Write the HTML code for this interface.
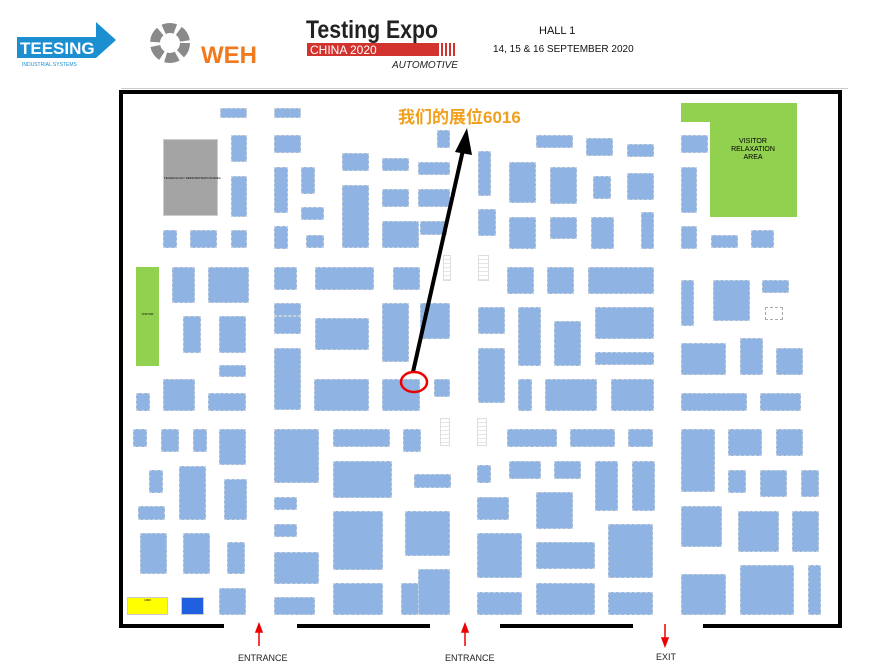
<!DOCTYPE html>
<html><head><meta charset="utf-8">
<style>
*{margin:0;padding:0;box-sizing:border-box}
body{width:875px;height:669px;background:#fff;position:relative;overflow:hidden;font-family:"Liberation Sans",sans-serif}
.b{position:absolute;background:#8fb4e3;border:1px dashed #c9d3df}
.w{position:absolute;background:#000}
.t{position:absolute;white-space:nowrap}
.lad{position:absolute;border:1px solid #ddd;background:repeating-linear-gradient(#fff 0 3px,#e6e6e6 3px 4px)}
</style></head><body>
<svg style="position:absolute;left:0;top:0" width="875" height="90">
<polygon points="17,37 96,37 96,22 116,40 96,58 17,58" fill="#1c8fd0"/>
<text x="20" y="54" font-family="Liberation Sans" font-weight="bold" font-size="17" fill="#fff">TEESING</text>
<text x="22" y="66" font-family="Liberation Sans" font-size="5" fill="#1c8fd0">INDUSTRIAL SYSTEMS</text>
<circle cx="170" cy="43" r="15" fill="none" stroke="#8a8a8a" stroke-width="10" stroke-dasharray="12 4"/>
<text x="201" y="63" font-family="Liberation Sans" font-weight="bold" font-size="24" fill="#f07a20">WEH</text>
<text x="306" y="38" font-family="Liberation Sans" font-weight="bold" font-size="25" fill="#222" textLength="132" lengthAdjust="spacingAndGlyphs">Testing Expo</text>
<rect x="307" y="43" width="132" height="13" fill="#d2332f"/>
<rect x="441" y="43" width="2" height="13" fill="#d2332f"/><rect x="445" y="43" width="2" height="13" fill="#d2332f"/><rect x="449" y="43" width="2" height="13" fill="#d2332f"/><rect x="453" y="43" width="2" height="13" fill="#d2332f"/>
<text x="310" y="54" font-family="Liberation Sans" font-size="12" fill="#fff">CHINA 2020</text>
<text x="392" y="68" font-family="Liberation Sans" font-style="italic" font-size="10" fill="#222">AUTOMOTIVE</text>
<text x="539" y="34" font-family="Liberation Sans" font-size="11" fill="#111">HALL 1</text>
<text x="493" y="52" font-family="Liberation Sans" font-size="10" fill="#111">14, 15 &amp; 16 SEPTEMBER 2020</text>
<rect x="121" y="88" width="727" height="1" fill="#ccc"/>
</svg>
<div class="w" style="left:119px;top:90px;width:723px;height:4px"></div>
<div class="w" style="left:119px;top:90px;width:4px;height:538px"></div>
<div class="w" style="left:838px;top:90px;width:4px;height:538px"></div>
<div class="w" style="left:119px;top:624px;width:105px;height:4px"></div>
<div class="w" style="left:297px;top:624px;width:133px;height:4px"></div>
<div class="w" style="left:500px;top:624px;width:133px;height:4px"></div>
<div class="w" style="left:703px;top:624px;width:139px;height:4px"></div>
<div class="t" style="left:163px;top:139px;width:55px;height:77px;background:#a4a4a4;border:1px solid #ccc;font-size:3px;text-align:center;padding-top:36px">TECHNOLOGY DEMONSTRATION AREA</div>
<div class="t" style="left:136px;top:267px;width:23px;height:99px;background:#92d050;font-size:3px;text-align:center;padding-top:45px">VISITOR</div>
<svg style="position:absolute;left:681px;top:103px" width="117" height="115"><polygon points="0,0 116,0 116,114 29,114 29,19 0,19" fill="#92d050"/>
<text x="72" y="40" font-family="Liberation Sans" font-size="7" text-anchor="middle">VISITOR</text><text x="72" y="48" font-family="Liberation Sans" font-size="7" text-anchor="middle">RELAXATION</text><text x="72" y="56" font-family="Liberation Sans" font-size="7" text-anchor="middle">AREA</text></svg>
<div class="t" style="left:127px;top:597px;width:41px;height:18px;background:#ffff00;border:1px solid #ccc;font-size:3px;text-align:center">1000</div>
<div class="t" style="left:181px;top:597px;width:23px;height:18px;background:#1f5fe0;border:1px solid #ccc"></div>
<div class="lad" style="left:443px;top:255px;width:8px;height:26px"></div>
<div class="lad" style="left:478px;top:255px;width:11px;height:26px"></div>
<div class="lad" style="left:440px;top:418px;width:10px;height:28px"></div>
<div class="lad" style="left:477px;top:418px;width:10px;height:28px"></div>
<div class="t" style="left:765px;top:307px;width:18px;height:13px;border:1px dashed #aaa"></div>
<div class="b" style="left:220px;top:108px;width:27px;height:10px"></div>
<div class="b" style="left:274px;top:108px;width:27px;height:10px"></div>
<div class="b" style="left:231px;top:135px;width:16px;height:27px"></div>
<div class="b" style="left:274px;top:135px;width:27px;height:18px"></div>
<div class="b" style="left:231px;top:176px;width:16px;height:41px"></div>
<div class="b" style="left:274px;top:167px;width:14px;height:46px"></div>
<div class="b" style="left:301px;top:167px;width:14px;height:27px"></div>
<div class="b" style="left:342px;top:153px;width:27px;height:18px"></div>
<div class="b" style="left:382px;top:158px;width:27px;height:13px"></div>
<div class="b" style="left:342px;top:185px;width:27px;height:63px"></div>
<div class="b" style="left:382px;top:189px;width:27px;height:18px"></div>
<div class="b" style="left:301px;top:207px;width:23px;height:13px"></div>
<div class="b" style="left:163px;top:230px;width:14px;height:18px"></div>
<div class="b" style="left:190px;top:230px;width:27px;height:18px"></div>
<div class="b" style="left:231px;top:230px;width:16px;height:18px"></div>
<div class="b" style="left:274px;top:226px;width:14px;height:23px"></div>
<div class="b" style="left:306px;top:235px;width:18px;height:13px"></div>
<div class="b" style="left:382px;top:221px;width:37px;height:27px"></div>
<div class="b" style="left:172px;top:267px;width:23px;height:36px"></div>
<div class="b" style="left:208px;top:267px;width:41px;height:36px"></div>
<div class="b" style="left:274px;top:267px;width:23px;height:23px"></div>
<div class="b" style="left:315px;top:267px;width:59px;height:23px"></div>
<div class="b" style="left:393px;top:267px;width:27px;height:23px"></div>
<div class="b" style="left:183px;top:316px;width:18px;height:37px"></div>
<div class="b" style="left:219px;top:316px;width:27px;height:37px"></div>
<div class="b" style="left:274px;top:303px;width:27px;height:13px"></div>
<div class="b" style="left:274px;top:316px;width:27px;height:18px"></div>
<div class="b" style="left:315px;top:318px;width:54px;height:32px"></div>
<div class="b" style="left:382px;top:303px;width:27px;height:59px"></div>
<div class="b" style="left:420px;top:303px;width:30px;height:36px"></div>
<div class="b" style="left:274px;top:348px;width:27px;height:62px"></div>
<div class="b" style="left:219px;top:365px;width:27px;height:12px"></div>
<div class="b" style="left:418px;top:162px;width:32px;height:13px"></div>
<div class="b" style="left:418px;top:189px;width:32px;height:18px"></div>
<div class="b" style="left:420px;top:221px;width:27px;height:14px"></div>
<div class="b" style="left:437px;top:130px;width:13px;height:18px"></div>
<div class="b" style="left:478px;top:151px;width:13px;height:45px"></div>
<div class="b" style="left:536px;top:135px;width:37px;height:13px"></div>
<div class="b" style="left:586px;top:138px;width:27px;height:18px"></div>
<div class="b" style="left:627px;top:144px;width:27px;height:13px"></div>
<div class="b" style="left:681px;top:135px;width:27px;height:18px"></div>
<div class="b" style="left:509px;top:162px;width:27px;height:41px"></div>
<div class="b" style="left:550px;top:167px;width:27px;height:37px"></div>
<div class="b" style="left:593px;top:176px;width:18px;height:23px"></div>
<div class="b" style="left:627px;top:173px;width:27px;height:27px"></div>
<div class="b" style="left:681px;top:167px;width:16px;height:46px"></div>
<div class="b" style="left:478px;top:209px;width:18px;height:27px"></div>
<div class="b" style="left:509px;top:217px;width:27px;height:32px"></div>
<div class="b" style="left:550px;top:217px;width:27px;height:22px"></div>
<div class="b" style="left:591px;top:217px;width:23px;height:32px"></div>
<div class="b" style="left:641px;top:212px;width:13px;height:37px"></div>
<div class="b" style="left:681px;top:226px;width:16px;height:23px"></div>
<div class="b" style="left:711px;top:235px;width:27px;height:13px"></div>
<div class="b" style="left:751px;top:230px;width:23px;height:18px"></div>
<div class="b" style="left:507px;top:267px;width:27px;height:27px"></div>
<div class="b" style="left:547px;top:267px;width:27px;height:27px"></div>
<div class="b" style="left:588px;top:267px;width:66px;height:27px"></div>
<div class="b" style="left:681px;top:280px;width:13px;height:46px"></div>
<div class="b" style="left:713px;top:280px;width:37px;height:41px"></div>
<div class="b" style="left:762px;top:280px;width:27px;height:13px"></div>
<div class="b" style="left:478px;top:307px;width:27px;height:27px"></div>
<div class="b" style="left:518px;top:307px;width:23px;height:59px"></div>
<div class="b" style="left:554px;top:321px;width:27px;height:45px"></div>
<div class="b" style="left:595px;top:307px;width:59px;height:32px"></div>
<div class="b" style="left:681px;top:343px;width:45px;height:32px"></div>
<div class="b" style="left:740px;top:338px;width:23px;height:37px"></div>
<div class="b" style="left:776px;top:348px;width:27px;height:27px"></div>
<div class="b" style="left:478px;top:348px;width:27px;height:55px"></div>
<div class="b" style="left:595px;top:352px;width:59px;height:13px"></div>
<div class="b" style="left:136px;top:393px;width:14px;height:18px"></div>
<div class="b" style="left:163px;top:379px;width:32px;height:32px"></div>
<div class="b" style="left:208px;top:393px;width:38px;height:18px"></div>
<div class="b" style="left:314px;top:379px;width:55px;height:32px"></div>
<div class="b" style="left:382px;top:379px;width:38px;height:32px"></div>
<div class="b" style="left:434px;top:379px;width:16px;height:18px"></div>
<div class="b" style="left:518px;top:379px;width:14px;height:32px"></div>
<div class="b" style="left:545px;top:379px;width:52px;height:32px"></div>
<div class="b" style="left:611px;top:379px;width:43px;height:32px"></div>
<div class="b" style="left:681px;top:393px;width:66px;height:18px"></div>
<div class="b" style="left:760px;top:393px;width:41px;height:18px"></div>
<div class="b" style="left:133px;top:429px;width:14px;height:18px"></div>
<div class="b" style="left:161px;top:429px;width:18px;height:23px"></div>
<div class="b" style="left:193px;top:429px;width:14px;height:23px"></div>
<div class="b" style="left:219px;top:429px;width:27px;height:36px"></div>
<div class="b" style="left:274px;top:429px;width:45px;height:54px"></div>
<div class="b" style="left:333px;top:429px;width:57px;height:18px"></div>
<div class="b" style="left:403px;top:429px;width:18px;height:23px"></div>
<div class="b" style="left:507px;top:429px;width:50px;height:18px"></div>
<div class="b" style="left:570px;top:429px;width:45px;height:18px"></div>
<div class="b" style="left:628px;top:429px;width:25px;height:18px"></div>
<div class="b" style="left:681px;top:429px;width:34px;height:63px"></div>
<div class="b" style="left:728px;top:429px;width:34px;height:27px"></div>
<div class="b" style="left:776px;top:429px;width:27px;height:27px"></div>
<div class="b" style="left:149px;top:470px;width:14px;height:23px"></div>
<div class="b" style="left:179px;top:466px;width:27px;height:54px"></div>
<div class="b" style="left:224px;top:479px;width:23px;height:41px"></div>
<div class="b" style="left:333px;top:461px;width:59px;height:37px"></div>
<div class="b" style="left:414px;top:474px;width:37px;height:14px"></div>
<div class="b" style="left:477px;top:465px;width:14px;height:18px"></div>
<div class="b" style="left:509px;top:461px;width:32px;height:18px"></div>
<div class="b" style="left:554px;top:461px;width:27px;height:18px"></div>
<div class="b" style="left:595px;top:461px;width:23px;height:50px"></div>
<div class="b" style="left:632px;top:461px;width:23px;height:50px"></div>
<div class="b" style="left:728px;top:470px;width:18px;height:23px"></div>
<div class="b" style="left:760px;top:470px;width:27px;height:27px"></div>
<div class="b" style="left:801px;top:470px;width:18px;height:27px"></div>
<div class="b" style="left:138px;top:506px;width:27px;height:14px"></div>
<div class="b" style="left:274px;top:497px;width:23px;height:13px"></div>
<div class="b" style="left:477px;top:497px;width:32px;height:23px"></div>
<div class="b" style="left:536px;top:492px;width:37px;height:37px"></div>
<div class="b" style="left:681px;top:506px;width:41px;height:41px"></div>
<div class="b" style="left:738px;top:511px;width:41px;height:41px"></div>
<div class="b" style="left:792px;top:511px;width:27px;height:41px"></div>
<div class="b" style="left:333px;top:511px;width:50px;height:59px"></div>
<div class="b" style="left:405px;top:511px;width:45px;height:45px"></div>
<div class="b" style="left:274px;top:524px;width:23px;height:13px"></div>
<div class="b" style="left:608px;top:524px;width:45px;height:54px"></div>
<div class="b" style="left:140px;top:533px;width:27px;height:41px"></div>
<div class="b" style="left:183px;top:533px;width:27px;height:41px"></div>
<div class="b" style="left:477px;top:533px;width:45px;height:45px"></div>
<div class="b" style="left:227px;top:542px;width:18px;height:32px"></div>
<div class="b" style="left:536px;top:542px;width:59px;height:27px"></div>
<div class="b" style="left:274px;top:552px;width:45px;height:32px"></div>
<div class="b" style="left:401px;top:583px;width:18px;height:32px"></div>
<div class="b" style="left:418px;top:569px;width:32px;height:46px"></div>
<div class="b" style="left:681px;top:574px;width:45px;height:41px"></div>
<div class="b" style="left:740px;top:565px;width:54px;height:50px"></div>
<div class="b" style="left:808px;top:565px;width:13px;height:50px"></div>
<div class="b" style="left:219px;top:588px;width:27px;height:27px"></div>
<div class="b" style="left:274px;top:597px;width:41px;height:18px"></div>
<div class="b" style="left:333px;top:583px;width:50px;height:32px"></div>
<div class="b" style="left:477px;top:592px;width:45px;height:23px"></div>
<div class="b" style="left:536px;top:583px;width:59px;height:32px"></div>
<div class="b" style="left:608px;top:592px;width:45px;height:23px"></div>
<div class="t" style="left:398px;top:103px;font-size:17px;font-weight:bold;color:#f0a01e;font-family:'Liberation Sans','Noto Sans CJK SC',sans-serif">我们的展位6016</div>
<svg style="position:absolute;left:0;top:0" width="875" height="669">
<line x1="413" y1="372" x2="463" y2="150" stroke="#000" stroke-width="4"/>
<polygon points="467,128 455,152 472,155" fill="#000"/>
<ellipse cx="414" cy="382" rx="13" ry="10" fill="none" stroke="#e00" stroke-width="2.5"/>
<g stroke="#e00" stroke-width="1.5" fill="#e00">
<line x1="259" y1="646" x2="259" y2="630"/><polygon points="259,624 256,632 262,632"/>
<line x1="465" y1="646" x2="465" y2="630"/><polygon points="465,624 462,632 468,632"/>
<line x1="665" y1="624" x2="665" y2="640"/><polygon points="665,646 662,638 668,638"/>
</g>
<text x="238" y="661" font-family="Liberation Sans" font-size="9" fill="#222">ENTRANCE</text>
<text x="445" y="661" font-family="Liberation Sans" font-size="9" fill="#222">ENTRANCE</text>
<text x="656" y="660" font-family="Liberation Sans" font-size="9" fill="#222">EXIT</text>
</svg>
</body></html>
